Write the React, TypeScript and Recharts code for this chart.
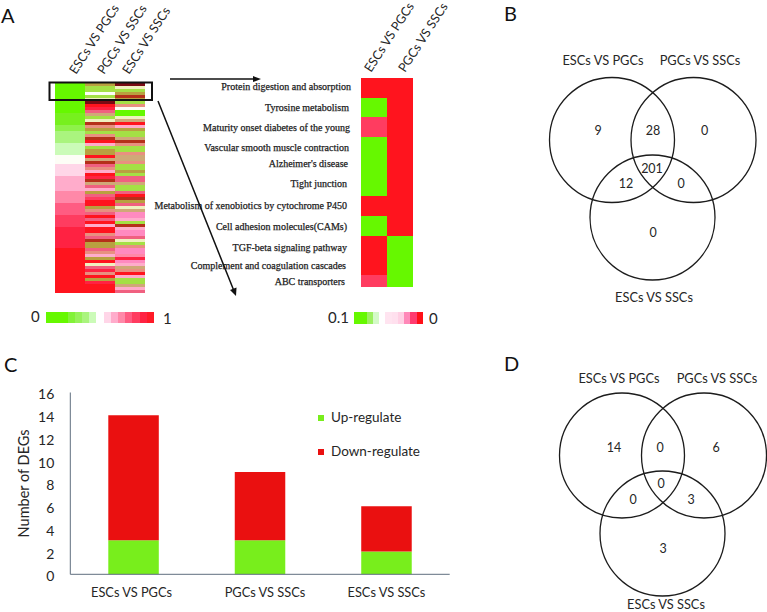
import React from 'react';
import { BarChart, Bar, Cell, XAxis, YAxis, Legend, ScatterChart, Scatter } from 'recharts';

const FONT = 'Lato, sans-serif';
const INK = '#262626';

// panel A, heat map colours
const heatPalette = [
    '#66f800', '#77f01e', '#8ef24a', '#aaf47e', '#cbfbb8', '#fdfdf6', '#ffd6e8', '#ffaccb',
    '#ff88a8', '#ff5c82', '#ff3c60', '#ff2242', '#ff141e', '#b9a040', '#b5301a', '#d0a878',
    '#a4e045', '#f0f0c0', '#7a0a14', '#f06080', '#ff8ac0', '#e89080',
];

const overviewColumns = ['ESCs VS PGCs', 'PGCs VS SSCs', 'ESCs VS SSCs'];
const overviewEscPgc = [
    0, 0, 0, 0, 0, 0, 0, 0, 0, 0, 1, 1, 1, 1, 2, 2, 3, 3, 3, 3, 4, 4, 4, 4, 5, 5, 5, 6, 6, 6, 6, 7, 7, 7, 7,
    7, 8, 8, 8, 8, 9, 9, 9, 9, 10, 10, 10, 10, 11, 11, 11, 11, 11, 11, 11, 12, 12, 12, 12, 12, 12, 12, 12, 12, 12, 12, 12, 12, 12, 12,
];
const overviewPgcSsc = [
    13, 16, 16, 5, 16, 17, 18, 12, 11, 19, 15, 16, 17, 14, 21, 13, 16, 21, 14, 12, 7, 16, 13, 13, 12, 15, 14, 19, 21, 7, 12, 11, 14, 15, 19,
    7, 13, 19, 10, 12, 12, 13, 21, 19, 12, 19, 12, 7, 12, 12, 21, 19, 14, 13, 13, 19, 21, 7, 13, 12, 17, 19, 11, 21, 12, 13, 11, 12, 12, 12,
];
const overviewEscSsc = [
    18, 17, 16, 13, 14, 13, 16, 21, 5, 0, 0, 17, 15, 12, 7, 13, 16, 16, 15, 14, 21, 16, 16, 21, 15, 15, 21, 16, 16, 13, 16, 19, 19, 15, 16,
    16, 19, 12, 14, 13, 19, 17, 15, 20, 20, 7, 16, 14, 7, 20, 20, 19, 17, 16, 21, 20, 20, 8, 11, 20, 7, 15, 21, 12, 7, 16, 16, 15, 7, 19,
];

// panel A, enriched pathways
const pathwayNames = [
    'Protein digestion and absorption', 'Tyrosine metabolism', 'Maturity onset diabetes of the young',
    'Vascular smooth muscle contraction', "Alzheimer's disease", 'Tight junction',
    'Metabolism of xenobiotics by cytochrome P450', 'Cell adhesion molecules(CAMs)', 'TGF-beta signaling pathway',
    'Complement and coagulation cascades', 'ABC transporters',
];
const pathwayColumns = ['ESCs VS PGCs', 'PGCs VS SSCs'];
const pathwayEscPgc = [12, 0, 10, 0, 0, 0, 12, 0, 12, 12, 10];
const pathwayPgcSsc = [12, 12, 12, 12, 12, 12, 12, 12, 0, 0, 0];
const pathwayLabelRight = [351, 349, 350, 349, 348, 347, 347, 347, 347, 346, 345];
const pathwayLabelNudge = [-1, 0, 0, 0, -3, -3, -1, 1, 2, 0, -4];

const keyColoursA = [
    '#66f800', '#66f800', '#66f800', '#82f238', '#96f25a', '#aaf47e', '#cbfbb8', '#ffffff',
    '#ffd6e8', '#ffaccb', '#ff88a8', '#ff5c82', '#ff3c60', '#ff2242', '#ff1a28',
];
const keyColoursB = [
    '#66f800', '#66f800', '#9cf060', '#d4fac8', '#ffffff', '#ffe4f0', '#ffe0ee', '#ffd0e4', '#ff88b8', '#ff3c70', '#ff1018',
];

// panel C
const degCategories = ['ESCs VS PGCs', 'PGCs VS SSCs', 'ESCs VS SSCs'];
const degUp = [3, 3, 2];
const degDown = [11, 6, 4];
const degTicks = [0, 2, 4, 6, 8, 10, 12, 14, 16];
const degLabelNudge = [-2, 5, 0];

// panels B and D
const vennNames = ['ESCs VS PGCs', 'PGCs VS SSCs', 'ESCs VS SSCs'];
const vennBCounts = [9, 28, 0, 201, 12, 0, 0];
const vennDCounts = [14, 0, 6, 0, 0, 3, 3];
const vennBCircles = [[112, 140], [193.5, 140], [152.5, 217.5]];
const vennDCircles = [[122, 115.5], [204, 115.5], [162.5, 193.5]];
const vennBCountSpots = [[98, 130], [153, 130], [204.5, 130], [152, 168], [126, 183], [181, 183], [153, 232]];
const vennDCountSpots = [[114, 107], [160, 107], [216, 107], [161, 143], [133, 159], [191, 159], [163, 208]];
const vennBNameSpots = [[103, 60], [200, 60], [154, 297]];
const vennDNameSpots = [[119, 38], [217, 38], [166, 264]];

const HeatMap = ({ left, top, width, clip, height, margin, columns, series, yWidth, yTicks, yTick, axisHeight, tickNudge, tickDown = 0 }: any) => {
    const rowCount = series[0].length;
    const table = columns.map((name: string) => {
        const row: any = { name };
        for (let r = 0; r < rowCount; r++) row[`r${r}`] = 1;
        return row;
    });
    const HeadTick = ({ x, y, payload, index }: any) => (
        <text
            transform={`translate(${x + tickNudge[index]},${y + tickDown}) rotate(-57)`}
            fontFamily={FONT}
            fontSize={12.6}
            fill={INK}
        >
            {payload.value}
        </text>
    );
    return (
        <div style={{ position: 'absolute', left, top, width, height: clip, overflow: 'hidden' }}>
            <BarChart width={width} height={height} data={table} margin={margin} barCategoryGap={0}>
                <XAxis
                    dataKey="name"
                    orientation="top"
                    height={axisHeight}
                    axisLine={false}
                    tickLine={false}
                    interval={0}
                    tick={<HeadTick />}
                />
                <YAxis
                    type="number"
                    reversed
                    domain={[0, rowCount]}
                    hide={!yTicks}
                    width={yWidth}
                    ticks={yTicks}
                    interval={0}
                    axisLine={false}
                    tickLine={false}
                    tick={yTick}
                />
                {Array.from({ length: rowCount }, (_, r) => (
                    <Bar key={r} dataKey={`r${r}`} stackId="heat" isAnimationActive={false}>
                        {columns.map((_c: string, c: number) => (
                            <Cell key={c} fill={heatPalette[series[c][r]]} shapeRendering="crispEdges" />
                        ))}
                    </Bar>
                ))}
            </BarChart>
        </div>
    );
};

const PathwayTick = ({ y, payload, index }: any) => (
    <text
        x={pathwayLabelRight[index] - 150}
        y={y + pathwayLabelNudge[index] + 3.5}
        textAnchor="end"
        fontFamily="Liberation Serif, serif"
        fontSize={10}
        stroke="#222"
        strokeWidth={0.25}
        fill="#222"
    >
        {pathwayNames[Math.floor(payload.value)]}
    </text>
);

const ColourKey = ({ left, top, width, height, colours }: any) => {
    const row: any = { name: 'key' };
    colours.forEach((_c: string, i: number) => { row[`k${i}`] = 1; });
    return (
        <div style={{ position: 'absolute', left, top }}>
            <BarChart width={width} height={height} data={[row]} layout="vertical" margin={{ top: 0, right: 0, bottom: 0, left: 0 }} barCategoryGap={0}>
                <XAxis type="number" hide domain={[0, colours.length]} />
                <YAxis type="category" dataKey="name" hide />
                {colours.map((c: string, i: number) => (
                    <Bar key={i} dataKey={`k${i}`} stackId="key" fill={c} isAnimationActive={false} shapeRendering="crispEdges" />
                ))}
            </BarChart>
        </div>
    );
};

const DegTick = ({ x, y, payload, index }: any) => (
    <text x={x + degLabelNudge[index]} y={y + 15} textAnchor="middle" fontFamily={FONT} fontSize={12.8} fill={INK}>
        {payload.value}
    </text>
);

const DegLegend = ({ payload }: any) => (
    <div style={{ fontFamily: FONT, fontSize: 13.5, color: INK }}>
        {payload.map((p: any) => (
            <div key={p.value} style={{ height: 33.5, display: 'flex', alignItems: 'flex-start', lineHeight: '17px', whiteSpace: 'nowrap' }}>
                <span style={{ width: 6, height: 6, background: p.color, marginTop: 6, marginRight: 7 }} />
                {p.value}
            </div>
        ))}
    </div>
);

const degTable = degCategories.map((name, i) => ({ name, up: degUp[i], down: degDown[i] }));

const Venn = ({ left, top, width, height, circles, counts, countSpots, nameSpots }: any) => {
    const circleData = circles.map(([x, y]: number[]) => ({ x, y }));
    const countData = counts.map((label: number, i: number) => ({ x: countSpots[i][0], y: countSpots[i][1], label }));
    const nameData = vennNames.map((label, i) => ({ x: nameSpots[i][0], y: nameSpots[i][1], label }));
    const Ring = ({ cx, cy }: any) => <circle cx={cx} cy={cy} r={62.5} fill="none" stroke="#1c1c1c" strokeWidth={1.3} />;
    const Count = ({ cx, cy, payload }: any) => (
        <text x={cx} y={cy + 5} textAnchor="middle" fontFamily={FONT} fontSize={12.5} fill={INK}>{payload.label}</text>
    );
    const Name = ({ cx, cy, payload }: any) => (
        <text x={cx} y={cy + 5} textAnchor="middle" fontFamily={FONT} fontSize={12.8} fill={INK}>{payload.label}</text>
    );
    return (
        <div style={{ position: 'absolute', left, top }}>
            <ScatterChart width={width} height={height} margin={{ top: 0, right: 0, bottom: 0, left: 0 }}>
                <XAxis type="number" dataKey="x" hide domain={[0, width]} />
                <YAxis type="number" dataKey="y" hide reversed domain={[0, height]} />
                <Scatter data={circleData} shape={<Ring />} isAnimationActive={false} />
                <Scatter data={countData} shape={<Count />} isAnimationActive={false} />
                <Scatter data={nameData} shape={<Name />} isAnimationActive={false} />
            </ScatterChart>
        </div>
    );
};

const Annotations = () => (
    <svg width={767} height={612} style={{ position: 'absolute', left: 0, top: 0, pointerEvents: 'none' }}>
        <text x={1} y={23} fontFamily={FONT} fontSize={20} fill="#111">A</text>
        <text x={504} y={21} fontFamily={FONT} fontSize={20} fill="#111">B</text>
        <text x={4} y={372} fontFamily={FONT} fontSize={20} fill="#111">C</text>
        <text x={504} y={371} fontFamily={FONT} fontSize={20} fill="#111">D</text>

        <rect x={49.5} y={82.5} width={102.5} height={17.5} fill="none" stroke="#111" strokeWidth={2} />
        <line x1={170} y1={79} x2={254} y2={79} stroke="#111" strokeWidth={1.5} />
        <polygon points="261,79 253,76 253,82" fill="#111" />
        <line x1={158} y1={101} x2={234} y2={291} stroke="#111" strokeWidth={1.5} />
        <polygon points="236,296 230,290 236.5,287.5" fill="#111" />

        <text x={31} y={322} fontFamily={FONT} fontSize={15} fill={INK}>0</text>
        <text x={163} y={324} fontFamily={FONT} fontSize={15} fill={INK}>1</text>
        <text x={328} y={323} fontFamily={FONT} fontSize={15} fill={INK}>0.1</text>
        <text x={429} y={324} fontFamily={FONT} fontSize={15} fill={INK}>0</text>
    </svg>
);

export default function App() {
    return (
        <div style={{ position: 'absolute', left: 0, top: 0, width: 767, height: 612, overflow: 'hidden', background: '#fff' }}>
            <HeatMap
                left={0}
                top={0}
                width={200}
                clip={300}
                height={293}
                axisHeight={80}
                margin={{ top: 3, right: 55, bottom: 0, left: 55 }}
                columns={overviewColumns}
                series={[overviewEscPgc, overviewPgcSsc, overviewEscSsc]}
                tickNudge={[6, 4, -1]}
            />
            <HeatMap
                left={150}
                top={0}
                width={330}
                clip={287}
                height={295}
                axisHeight={72}
                margin={{ top: 6, right: 67, bottom: 0, left: 0 }}
                columns={pathwayColumns}
                series={[pathwayEscPgc, pathwayPgcSsc]}
                yWidth={211}
                yTicks={pathwayNames.map((_, i) => i + 0.5)}
                yTick={<PathwayTick />}
                tickNudge={[-3, 5]}
                tickDown={3}
            />
            <ColourKey left={46} top={312} width={108} height={11} colours={keyColoursA} />
            <ColourKey left={354} top={312} width={69} height={12} colours={keyColoursB} />

            <div style={{ position: 'absolute', left: 0, top: 350 }}>
                <BarChart
                    width={500}
                    height={262}
                    data={degTable}
                    margin={{ top: 42.5, right: 50.3, bottom: 0, left: 0 }}
                    barSize={50.5}
                >
                    <XAxis
                        dataKey="name"
                        height={37.7}
                        stroke="#5f6f7f"
                        tickLine={false}
                        interval={0}
                        tick={<DegTick />}
                    />
                    <YAxis
                        type="number"
                        width={70.3}
                        domain={[0, 16]}
                        ticks={degTicks}
                        interval={0}
                        stroke="#5f6f7f"
                        tickLine={false}
                        dy={2}
                        tick={{ fontFamily: FONT, fontSize: 14, fill: INK }}
                        tickMargin={10}
                        label={{
                            value: 'Number of DEGs',
                            angle: -90,
                            position: 'insideLeft',
                            offset: 24,
                            style: { fontFamily: FONT, fontSize: 14.5, fill: INK, textAnchor: 'middle' },
                        }}
                    />
                    <Legend
                        layout="vertical"
                        align="center"
                        verticalAlign="middle"
                        itemSorter={null}
                        content={<DegLegend />}
                        wrapperStyle={{ left: 318, top: 59, width: 140 }}
                    />
                    <Bar dataKey="up" name="Up-regulate" stackId="deg" fill="#78ee1c" isAnimationActive={false} />
                    <Bar dataKey="down" name="Down-regulate" stackId="deg" fill="#ea1010" isAnimationActive={false} />
                </BarChart>
            </div>

            <Venn left={500} top={0} width={267} height={310} circles={vennBCircles} counts={vennBCounts} countSpots={vennBCountSpots} nameSpots={vennBNameSpots} />
            <Venn left={500} top={340} width={267} height={272} circles={vennDCircles} counts={vennDCounts} countSpots={vennDCountSpots} nameSpots={vennDNameSpots} />

            <Annotations />
        </div>
    );
}
